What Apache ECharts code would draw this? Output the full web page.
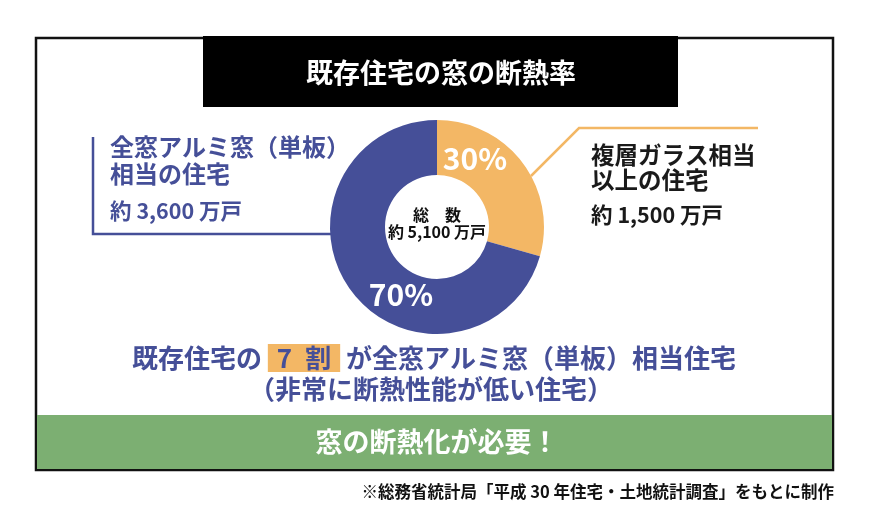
<!DOCTYPE html>
<html><head><meta charset="utf-8">
<script src="https://cdn.jsdelivr.net/npm/echarts@6/dist/echarts.min.js"></script>
<style>html,body{margin:0;padding:0;background:#fff}#c{width:869px;height:528px}</style>
</head><body><div id="c"></div>
<script>
// ---- data ----
const categories = ['複層ガラス相当以上の住宅', '全窓アルミ窓（単板）相当の住宅'];
const households = [1500, 3600];            // 万戸
const shareLabels = ['30%', '70%'];
const countLabels = ['約 1,500 万戸', '約 3,600 万戸'];
const totalLines = ['総　数', '約 5,100 万戸'];
const titleText = '既存住宅の窓の断熱率';
const leftLines = ['全窓アルミ窓（単板）', '相当の住宅'];
const rightLines = ['複層ガラス相当', '以上の住宅'];
const conclusion = '窓の断熱化が必要！';
const sourceNote = '※総務省統計局「平成 30 年住宅・土地統計調査」をもとに制作';

const NAVY = '#454f98', ORANGE = '#f3b765', GREEN = '#7caf72';
const FONT = '"Noto Sans CJK JP", "Noto Sans", sans-serif';

const chart = echarts.init(document.getElementById('c'), null, {renderer: 'canvas'});

function txt(x, y, text, size, color, align, extra) {
  return Object.assign({
    type: 'text', x: x, y: y, z: 100,
    style: {text: text, fill: color, fontSize: size, fontWeight: 'bold', fontFamily: FONT,
            align: align || 'left', verticalAlign: 'middle'}
  }, extra || {});
}

const graphics = [
  // outer frame
  {type: 'rect', z: 1, shape: {x: 36, y: 38, width: 797, height: 432},
   style: {fill: 'none', stroke: '#111', lineWidth: 2.5}},
  // green band
  {type: 'rect', z: 2, shape: {x: 37, y: 415, width: 795, height: 54}, style: {fill: GREEN}},
  // title box
  {type: 'rect', z: 3, shape: {x: 203, y: 36, width: 475, height: 71}, style: {fill: '#000'}},
  txt(441, 73, titleText, 27, '#fff', 'center'),
  // left leader line
  {type: 'polyline', z: 5, shape: {points: [[93, 137], [93, 234], [334, 234]]},
   style: {stroke: NAVY, lineWidth: 2.5, fill: 'none'}},
  // right leader line
  {type: 'polyline', z: 5, shape: {points: [[531, 176], [579, 128], [758, 128]]},
   style: {stroke: ORANGE, lineWidth: 2.5, fill: 'none'}},
  // left annotation
  txt(110, 147, leftLines[0], 24, NAVY),
  txt(110, 174, leftLines[1], 24, NAVY),
  txt(110, 211, countLabels[1], 21.5, NAVY),
  // right annotation
  txt(591, 155, rightLines[0], 23.5, '#1a1a1a'),
  txt(591, 180, rightLines[1], 23.5, '#1a1a1a'),
  txt(591, 215, countLabels[0], 21.5, '#1a1a1a'),
  // donut labels
  txt(475, 159, shareLabels[0], 30, '#fff', 'center'),
  txt(401, 295, shareLabels[1], 30, '#fff', 'center'),
  txt(437, 215, totalLines[0], 16, '#111', 'center'),
  txt(437, 232, totalLines[1], 16, '#111', 'center'),
  // bottom message
  {type: 'text', x: 434, y: 358, z: 100,
   style: {text: '既存住宅の {hl|7\u2002割} が全窓アルミ窓（単板）相当住宅', fill: NAVY, fontSize: 26,
           fontWeight: 'bold', fontFamily: FONT, align: 'center', verticalAlign: 'middle',
           rich: {hl: {fill: NAVY, fontSize: 26, fontWeight: 'bold', fontFamily: FONT,
                       backgroundColor: ORANGE, padding: [0, 9, 0, 9], height: 28, lineHeight: 28}}}},
  txt(431, 389, '（非常に断熱性能が低い住宅）', 26, NAVY, 'center'),
  // conclusion
  txt(437, 442, conclusion, 27, '#fff', 'center'),
  // source
  txt(834, 492, sourceNote, 16.5, '#111', 'right')
];

chart.setOption({
  animation: false,
  graphic: graphics,
  series: [{
    type: 'pie',
    center: [437, 227],
    radius: [52, 107],
    startAngle: 90,
    clockwise: true,
    silent: true,
    label: {show: false},
    labelLine: {show: false},
    data: categories.map((name, i) => ({name: name, value: households[i],
                                        itemStyle: {color: [ORANGE, NAVY][i]}}))
  }]
});
</script>
</body></html>
